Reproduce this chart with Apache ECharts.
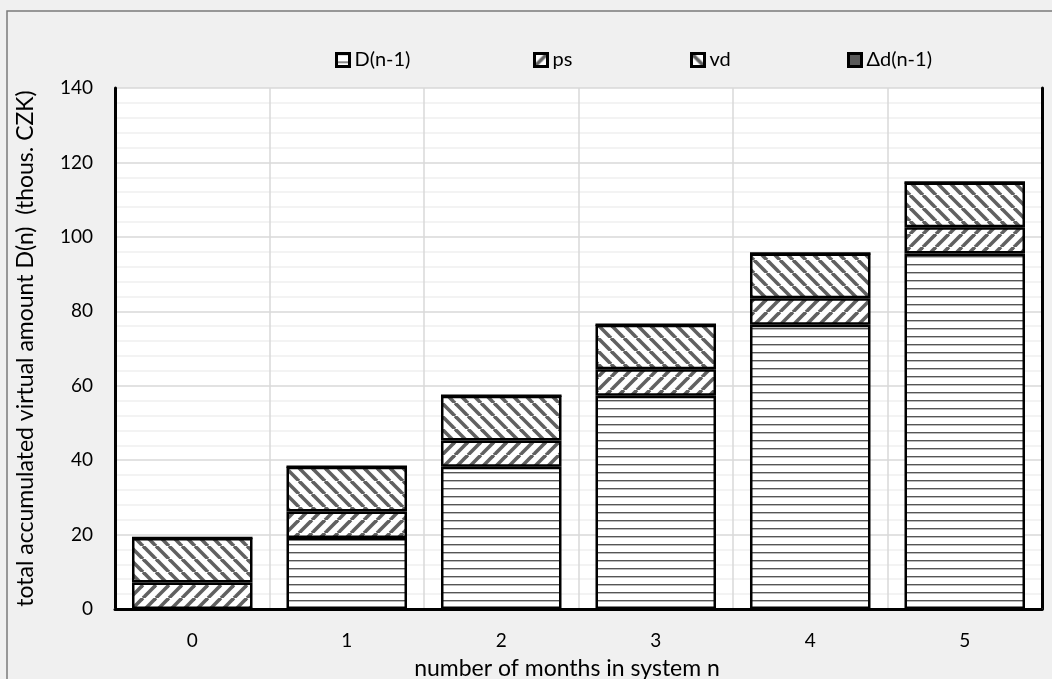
<!DOCTYPE html>
<html>
<head>
<meta charset="utf-8">
<script src="https://cdn.jsdelivr.net/npm/echarts@6/dist/echarts.min.js"></script>
<style>
html,body{margin:0;padding:0;background:#f0f0f0;}
#chart{width:1052px;height:679px;}
</style>
</head>
<body>
<div id="chart"></div>
<script>
// ---- data ----
const categories = ['0', '1', '2', '3', '4', '5'];
const seriesNames = ['D(n-1)', 'ps', 'vd', 'Δd(n-1)'];
const D_prev = [0, 19.1, 38.2, 57.3, 76.4, 95.5];
const ps = [7.1, 7.1, 7.1, 7.1, 7.1, 7.1];
const vd = [12.0, 12.0, 12.0, 12.0, 12.0, 12.0];
const dDelta = [0, 0, 0, 0, 0, 0];
const yTicks = { min: 0, max: 140, interval: 20 };
const xTitle = 'number of months in system n';
const yTitle = 'total accumulated virtual amount D(n)  (thous. CZK)';

// ---- patterns ----
function horizPattern() {
  const c = document.createElement('canvas');
  c.width = 8; c.height = 8;
  const g = c.getContext('2d');
  g.fillStyle = '#ffffff'; g.fillRect(0, 0, 8, 8);
  g.fillStyle = '#555555'; g.fillRect(0, 0, 8, 1.4);
  return c;
}
function diagPattern(up) {
  const s = 13;
  const c = document.createElement('canvas');
  c.width = s; c.height = s;
  const g = c.getContext('2d');
  g.fillStyle = '#ffffff'; g.fillRect(0, 0, s, s);
  g.strokeStyle = '#606060'; g.lineWidth = 3.6;
  for (const k of [-s, 0, s]) {
    g.beginPath();
    if (up) { g.moveTo(k, s); g.lineTo(k + s, 0); }
    else { g.moveTo(k, 0); g.lineTo(k + s, s); }
    g.stroke();
  }
  return c;
}
const fills = [
  { image: horizPattern(), repeat: 'repeat' },
  { image: diagPattern(true), repeat: 'repeat' },
  { image: diagPattern(false), repeat: 'repeat' },
  '#595959'
];
const values = [D_prev, ps, vd, dDelta];

const FONT = 'Lato';
const chart = echarts.init(document.getElementById('chart'));
const legendLefts = [330, 528, 685, 842];

chart.setOption({
  backgroundColor: '#f0f0f0',
  animation: false,
  textStyle: { fontFamily: FONT },
  graphic: [{
    type: 'rect', silent: true, z: 0,
    shape: { x: 7, y: 11, width: 1200, height: 800 },
    style: { fill: 'none', stroke: '#7a7a7a', lineWidth: 1.5 }
  }],
  legend: seriesNames.map((n, i) => ({
    data: [n], left: legendLefts[i], top: 45,
    itemWidth: 13, itemHeight: 13, itemGap: 5,
    icon: 'rect',
    itemStyle: { borderColor: '#000', borderWidth: 3 },
    textStyle: { fontFamily: FONT, fontSize: 20, color: '#000' },
    selectedMode: false
  })),
  grid: {
    left: 115, right: 10, top: 88, bottom: 70,
    containLabel: false, outerBoundsMode: 'none',
    show: true, backgroundColor: '#ffffff', borderWidth: 0
  },
  xAxis: [{
    type: 'category', data: categories, position: 'bottom',
    axisLine: { show: true, lineStyle: { color: '#a6a6a6', width: 2 } },
    axisTick: { show: false },
    splitLine: { show: true, lineStyle: { color: '#d9d9d9', width: 1.5 } },
    axisLabel: { fontFamily: FONT, fontSize: 19, color: '#000', margin: 22 },
    name: xTitle, nameLocation: 'middle', nameGap: 48,
    nameTextStyle: { fontFamily: FONT, fontSize: 23, color: '#000', padding: [0, 23, 0, 0] }
  }, {
    type: 'category', data: categories, position: 'top',
    axisLine: { show: true, lineStyle: { color: '#000', width: 3 } },
    axisTick: { show: false }, axisLabel: { show: false }, splitLine: { show: false }
  }],
  yAxis: [{
    type: 'value', min: yTicks.min, max: yTicks.max, interval: yTicks.interval,
    position: 'left',
    axisLine: { show: true, lineStyle: { color: '#000', width: 3 } },
    axisTick: { show: false },
    axisLabel: { fontFamily: FONT, fontSize: 19, color: '#000', margin: 22 },
    splitLine: { show: true, lineStyle: { color: '#d9d9d9', width: 1.5 } },
    minorTick: { show: false, splitNumber: 5 },
    minorSplitLine: { show: true, lineStyle: { color: '#efefef', width: 1.5 } },
    name: yTitle, nameLocation: 'middle', nameGap: 78, nameRotate: 90,
    nameTextStyle: { fontFamily: FONT, fontSize: 23, color: '#000' }
  }, {
    type: 'value', min: yTicks.min, max: yTicks.max, interval: yTicks.interval,
    position: 'right',
    axisLine: { show: true, lineStyle: { color: '#000', width: 3 } },
    axisTick: { show: false }, axisLabel: { show: false }, splitLine: { show: false }
  }],
  series: seriesNames.map((n, i) => ({
    name: n, type: 'bar', stack: 'total', data: values[i],
    xAxisIndex: 0, yAxisIndex: 0,
    barWidth: '78%',
    itemStyle: { color: fills[i], borderColor: '#000', borderWidth: 2.5 },
    emphasis: { disabled: true }
  }))
});
</script>
</body>
</html>
